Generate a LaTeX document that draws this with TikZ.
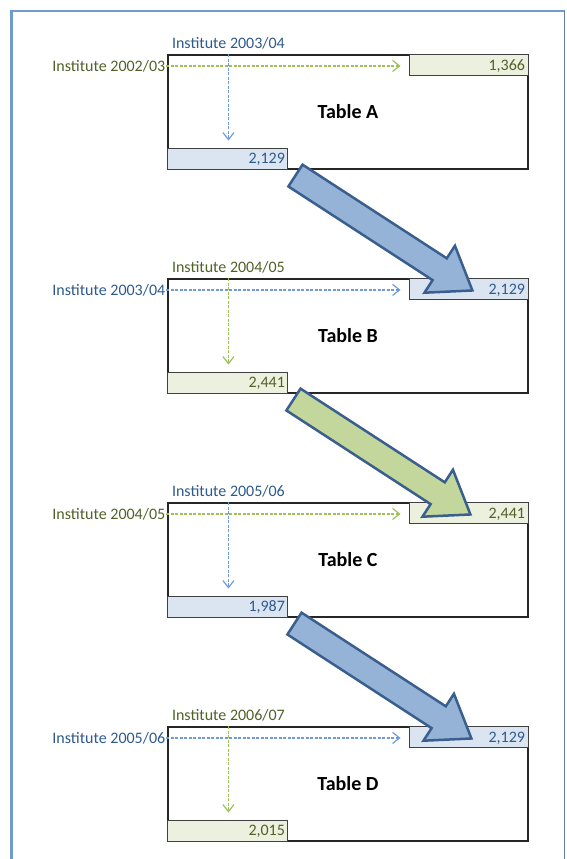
\documentclass[tikz,border=0pt]{standalone}
\usepackage{fontspec}
\setmainfont{Carlito}
\usetikzlibrary{arrows.meta}

\definecolor{framec}{HTML}{6F9AD3}
\definecolor{gtext}{HTML}{4F6228}
\definecolor{btext}{HTML}{2E5A8C}
\definecolor{gcell}{HTML}{EBF1DE}
\definecolor{bcell}{HTML}{DBE5F1}
\definecolor{gdash}{HTML}{9CC254}
\definecolor{bdash}{HTML}{6F9BD8}
\definecolor{bfat}{HTML}{95B3D7}
\definecolor{gfat}{HTML}{C3D69B}
\definecolor{fatline}{HTML}{3A5F8E}

\tikzset{
    tablebox/.style={draw=black!85, line width=1.1pt, minimum width=360pt, minimum height=114pt,
        inner sep=0pt, font=\fontsize{20}{24}\selectfont\bfseries},
    cell/.style={draw=black!75, line width=1pt, minimum height=21pt, inner xsep=3pt, inner ysep=0pt,
        text height=10.5pt, text depth=0pt, align=right, font=\fontsize{16}{19}\selectfont},
    rcell/.style={cell, text width=113pt, anchor=north east},
    lcell/.style={cell, text width=114pt, anchor=south west},
    lbl/.style={inner sep=1pt, font=\fontsize{16}{19}\selectfont},
    gdot/.style={gdash, line width=1.2pt, dash pattern=on 3pt off 1.5pt, -{Straight Barb[length=7pt,width=11pt]}},
    bdot/.style={bdash, line width=1.2pt, dash pattern=on 3pt off 1.5pt, -{Straight Barb[length=7pt,width=11pt]}},
    fat/.style={draw=fatline, line width=2.5pt, line join=miter},
}

\begin{document}
\begin{tikzpicture}[x=1pt,y=-1pt]
    \useasboundingbox (0,0) rectangle (566,859);
    % frame
    \draw[framec, line width=2.2pt] (11.5,859) -- (11.5,11) -- (564.5,11);
    \draw[fatline!80, line width=1pt] (564.5,11) -- (564.5,859);

    % Table A
    \node[tablebox] (tA) at (348,112) {Table A};
    \node[rcell, fill=gcell, text=gtext] (rA) at (tA.north east) {1,366};
    \node[lcell, fill=bcell, text=btext] (bA) at (tA.south west) {2,129};
    \node[lbl, text=gtext, anchor=base east] (laA) at ([shift={(-1,17)}]tA.north west) {Institute 2002/03};
    \node[lbl, text=btext, anchor=base] (ltA) at ([shift={(61,-6)}]tA.north west) {Institute 2003/04};
    \draw[gdot, shorten >=8pt] ([yshift=-0.5pt]laA.east |- rA.west) -- ([yshift=-0.5pt]rA.west);
    \draw[bdot, shorten <=4pt, shorten >=7pt] (ltA.south) -- (ltA.south |- bA.north);

    % Table B
    \node[tablebox] (tB) at (348,336) {Table B};
    \node[rcell, fill=bcell, text=btext] (rB) at (tB.north east) {2,129};
    \node[lcell, fill=gcell, text=gtext] (bB) at (tB.south west) {2,441};
    \node[lbl, text=btext, anchor=base east] (laB) at ([shift={(-1,17)}]tB.north west) {Institute 2003/04};
    \node[lbl, text=gtext, anchor=base] (ltB) at ([shift={(61,-6)}]tB.north west) {Institute 2004/05};
    \draw[bdot, shorten >=8pt] ([yshift=-0.5pt]laB.east |- rB.west) -- ([yshift=-0.5pt]rB.west);
    \draw[gdot, shorten <=4pt, shorten >=7pt] (ltB.south) -- (ltB.south |- bB.north);

    % Table C
    \node[tablebox] (tC) at (348,560) {Table C};
    \node[rcell, fill=gcell, text=gtext] (rC) at (tC.north east) {2,441};
    \node[lcell, fill=bcell, text=btext] (bC) at (tC.south west) {1,987};
    \node[lbl, text=gtext, anchor=base east] (laC) at ([shift={(-1,17)}]tC.north west) {Institute 2004/05};
    \node[lbl, text=btext, anchor=base] (ltC) at ([shift={(61,-6)}]tC.north west) {Institute 2005/06};
    \draw[gdot, shorten >=8pt] ([yshift=-0.5pt]laC.east |- rC.west) -- ([yshift=-0.5pt]rC.west);
    \draw[bdot, shorten <=4pt, shorten >=7pt] (ltC.south) -- (ltC.south |- bC.north);

    % Table D
    \node[tablebox] (tD) at (348,784) {Table D};
    \node[rcell, fill=bcell, text=btext] (rD) at (tD.north east) {2,129};
    \node[lcell, fill=gcell, text=gtext] (bD) at (tD.south west) {2,015};
    \node[lbl, text=btext, anchor=base east] (laD) at ([shift={(-1,17)}]tD.north west) {Institute 2005/06};
    \node[lbl, text=gtext, anchor=base] (ltD) at ([shift={(61,-6)}]tD.north west) {Institute 2006/07};
    \draw[bdot, shorten >=8pt] ([yshift=-0.5pt]laD.east |- rD.west) -- ([yshift=-0.5pt]rD.west);
    \draw[gdot, shorten <=4pt, shorten >=7pt] (ltD.south) -- (ltD.south |- bD.north);

    % big arrows
    \coordinate (sA) at ([shift={(7,6)}]bA.south east);
    \coordinate (sB) at ([shift={(5,6)}]bB.south east);
    \coordinate (sC) at ([shift={(6,6)}]bC.south east);
    \begin{scope}[shift={(sA)}, rotate=-33]
        \draw[fat, fill=bfat] (0,-13) -- (172,-13) -- (172,-28) -- (211,0) -- (172,28) -- (172,13) -- (0,13) -- cycle;
    \end{scope}
    \begin{scope}[shift={(sB)}, rotate=-33]
        \draw[fat, fill=gfat] (0,-13) -- (172,-13) -- (172,-28) -- (211,0) -- (172,28) -- (172,13) -- (0,13) -- cycle;
    \end{scope}
    \begin{scope}[shift={(sC)}, rotate=-33]
        \draw[fat, fill=bfat] (0,-13) -- (172,-13) -- (172,-28) -- (211,0) -- (172,28) -- (172,13) -- (0,13) -- cycle;
    \end{scope}
\end{tikzpicture}
\end{document}
